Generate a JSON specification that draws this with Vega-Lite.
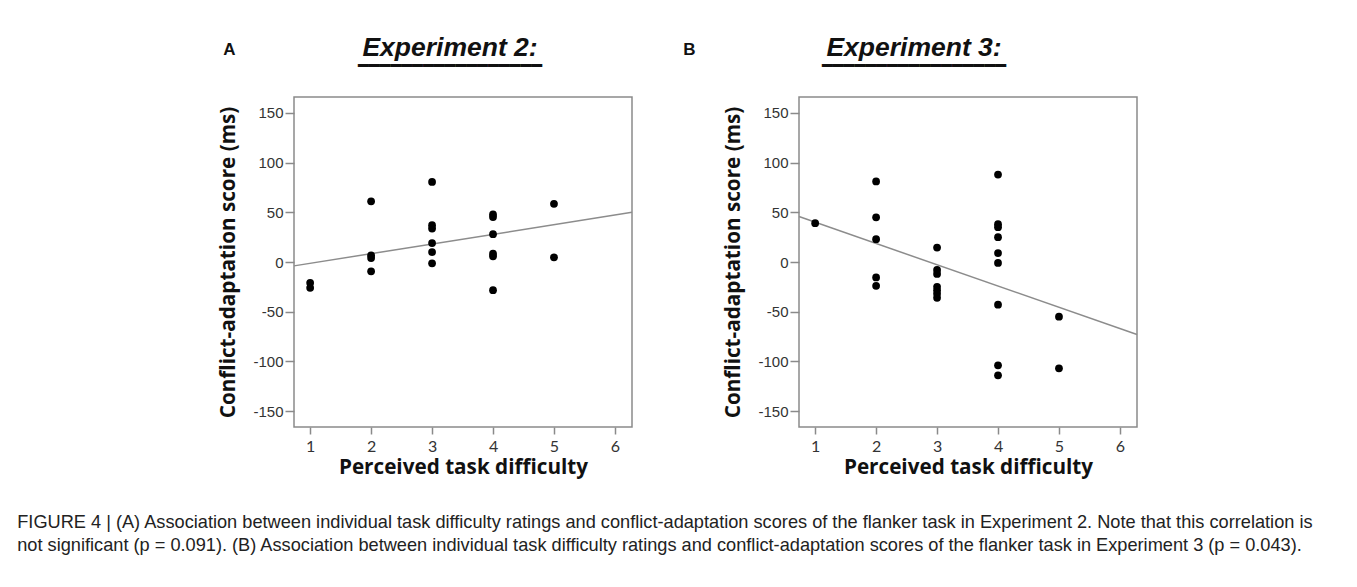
{
  "$schema": "https://vega.github.io/schema/vega-lite/v6.json",
  "background": "white",
  "padding": {"left": 17, "top": 33, "right": 0, "bottom": 0},
  "datasets": {
    "points": [
      {"panel": "A", "difficulty": 1, "score": -21},
      {"panel": "A", "difficulty": 1, "score": -26},
      {"panel": "A", "difficulty": 2, "score": 61},
      {"panel": "A", "difficulty": 2, "score": 6.7},
      {"panel": "A", "difficulty": 2, "score": 4},
      {"panel": "A", "difficulty": 2, "score": -9.4},
      {"panel": "A", "difficulty": 3, "score": 80.5},
      {"panel": "A", "difficulty": 3, "score": 37},
      {"panel": "A", "difficulty": 3, "score": 33.7},
      {"panel": "A", "difficulty": 3, "score": 19},
      {"panel": "A", "difficulty": 3, "score": 10},
      {"panel": "A", "difficulty": 3, "score": -1.3},
      {"panel": "A", "difficulty": 4, "score": 47.9},
      {"panel": "A", "difficulty": 4, "score": 45.2},
      {"panel": "A", "difficulty": 4, "score": 28},
      {"panel": "A", "difficulty": 4, "score": 8.4},
      {"panel": "A", "difficulty": 4, "score": 5.7},
      {"panel": "A", "difficulty": 4, "score": -28.3},
      {"panel": "A", "difficulty": 5, "score": 58.6},
      {"panel": "A", "difficulty": 5, "score": 4.7},
      {"panel": "B", "difficulty": 1, "score": 39},
      {"panel": "B", "difficulty": 2, "score": 81},
      {"panel": "B", "difficulty": 2, "score": 45},
      {"panel": "B", "difficulty": 2, "score": 23},
      {"panel": "B", "difficulty": 2, "score": -15.5},
      {"panel": "B", "difficulty": 2, "score": -24},
      {"panel": "B", "difficulty": 3, "score": 14.5},
      {"panel": "B", "difficulty": 3, "score": -8},
      {"panel": "B", "difficulty": 3, "score": -12},
      {"panel": "B", "difficulty": 3, "score": -25},
      {"panel": "B", "difficulty": 3, "score": -28.5},
      {"panel": "B", "difficulty": 3, "score": -32},
      {"panel": "B", "difficulty": 3, "score": -36},
      {"panel": "B", "difficulty": 4, "score": 88},
      {"panel": "B", "difficulty": 4, "score": 38},
      {"panel": "B", "difficulty": 4, "score": 35},
      {"panel": "B", "difficulty": 4, "score": 25},
      {"panel": "B", "difficulty": 4, "score": 9},
      {"panel": "B", "difficulty": 4, "score": -1},
      {"panel": "B", "difficulty": 4, "score": -43},
      {"panel": "B", "difficulty": 4, "score": -104},
      {"panel": "B", "difficulty": 4, "score": -114},
      {"panel": "B", "difficulty": 5, "score": -55},
      {"panel": "B", "difficulty": 5, "score": -107}
    ],
    "fits": [
      {"panel": "A", "difficulty": 0.735, "score": -3.9},
      {"panel": "A", "difficulty": 6.28, "score": 50},
      {"panel": "B", "difficulty": 0.735, "score": 45.7},
      {"panel": "B", "difficulty": 6.28, "score": -73}
    ]
  },
  "title": {
    "text": [
      "FIGURE 4 | (A) Association between individual task difficulty ratings and conflict-adaptation scores of the flanker task in Experiment 2. Note that this correlation is",
      "not significant (p = 0.091). (B) Association between individual task difficulty ratings and conflict-adaptation scores of the flanker task in Experiment 3 (p = 0.043)."
    ],
    "orient": "bottom",
    "anchor": "start",
    "frame": "bounds",
    "dx": -200,
    "offset": 37,
    "font": "Liberation Sans",
    "fontSize": 18.2,
    "fontStyle": "normal",
    "fontWeight": "normal",
    "color": "#222",
    "lineHeight": 23
  },
  "spacing": 47,
  "hconcat": [
    {
      "title": {"text": "A", "anchor": "start", "frame": "bounds", "dx": 6, "offset": -25, "font": "Liberation Sans", "fontSize": 17, "fontStyle": "normal", "fontWeight": "bold", "color": "#111"},
      "vconcat": [
        {
          "width": 338,
          "height": 330,
          "title": {"text": "Experiment 2:", "subtitle": "━━━━━━━━━━━━━━━━━", "dx": -13},
          "layer": [
            {
              "data": {"name": "fits"},
              "transform": [{"filter": "datum.panel === 'A'"}],
              "mark": {"type": "line", "color": "#8c8c8c", "strokeWidth": 1.5},
              "encoding": {
                "x": {"field": "difficulty", "type": "quantitative", "scale": {"domain": [0.735, 6.28], "nice": false, "zero": false}, "axis": {"values": [1, 2, 3, 4, 5, 6], "labelExpr": "'' + datum.value", "title": "Perceived task difficulty"}},
                "y": {"field": "score", "type": "quantitative", "scale": {"domain": [-166, 166], "nice": false, "zero": false}, "axis": {"values": [-150, -100, -50, 0, 50, 100, 150], "labelExpr": "'' + datum.value", "title": "Conflict-adaptation score (ms)"}}
              }
            },
            {
              "data": {"name": "points"},
              "transform": [{"filter": "datum.panel === 'A'"}],
              "mark": {"type": "circle", "color": "#000", "opacity": 1, "size": 60},
              "encoding": {
                "x": {"field": "difficulty", "type": "quantitative"},
                "y": {"field": "score", "type": "quantitative"}
              }
            }
          ]
        }
      ]
    },
    {
      "title": {"text": "B", "anchor": "start", "frame": "bounds", "dx": -39, "offset": -25, "font": "Liberation Sans", "fontSize": 17, "fontStyle": "normal", "fontWeight": "bold", "color": "#111"},
      "vconcat": [
        {
          "width": 338,
          "height": 330,
          "title": {"text": "Experiment 3:", "subtitle": "━━━━━━━━━━━━━━━━━", "dx": -54},
          "layer": [
            {
              "data": {"name": "fits"},
              "transform": [{"filter": "datum.panel === 'B'"}],
              "mark": {"type": "line", "color": "#8c8c8c", "strokeWidth": 1.5},
              "encoding": {
                "x": {"field": "difficulty", "type": "quantitative", "scale": {"domain": [0.735, 6.28], "nice": false, "zero": false}, "axis": {"values": [1, 2, 3, 4, 5, 6], "labelExpr": "'' + datum.value", "title": "Perceived task difficulty"}},
                "y": {"field": "score", "type": "quantitative", "scale": {"domain": [-166, 166], "nice": false, "zero": false}, "axis": {"values": [-150, -100, -50, 0, 50, 100, 150], "labelExpr": "'' + datum.value", "title": "Conflict-adaptation score (ms)"}}
              }
            },
            {
              "data": {"name": "points"},
              "transform": [{"filter": "datum.panel === 'B'"}],
              "mark": {"type": "circle", "color": "#000", "opacity": 1, "size": 60},
              "encoding": {
                "x": {"field": "difficulty", "type": "quantitative"},
                "y": {"field": "score", "type": "quantitative"}
              }
            }
          ]
        }
      ]
    }
  ],
  "config": {
    "view": {"stroke": "#8a8a8a", "strokeWidth": 1.5},
    "axis": {"grid": false, "domain": false, "tickColor": "#8a8a8a", "tickWidth": 1.5, "titleFont": "Open Sans", "titleFontWeight": "bold", "titleColor": "#111", "titleFontSize": 20.7},
    "axisY": {"labelFont": "Liberation Sans", "labelFontSize": 15, "labelColor": "#333", "tickSize": 9, "labelPadding": 2, "titlePadding": 14},
    "axisX": {"labelFont": "Lato", "labelFontSize": 16, "labelColor": "#333", "tickSize": 7, "labelPadding": 4, "titlePadding": 3},
    "title": {"font": "Liberation Sans", "fontSize": 26.5, "fontStyle": "italic", "fontWeight": "bold", "color": "#111", "subtitleFont": "DejaVu Sans", "subtitleFontSize": 18, "subtitleFontStyle": "normal", "subtitleColor": "#111", "subtitlePadding": -3, "offset": 21}
  }
}
